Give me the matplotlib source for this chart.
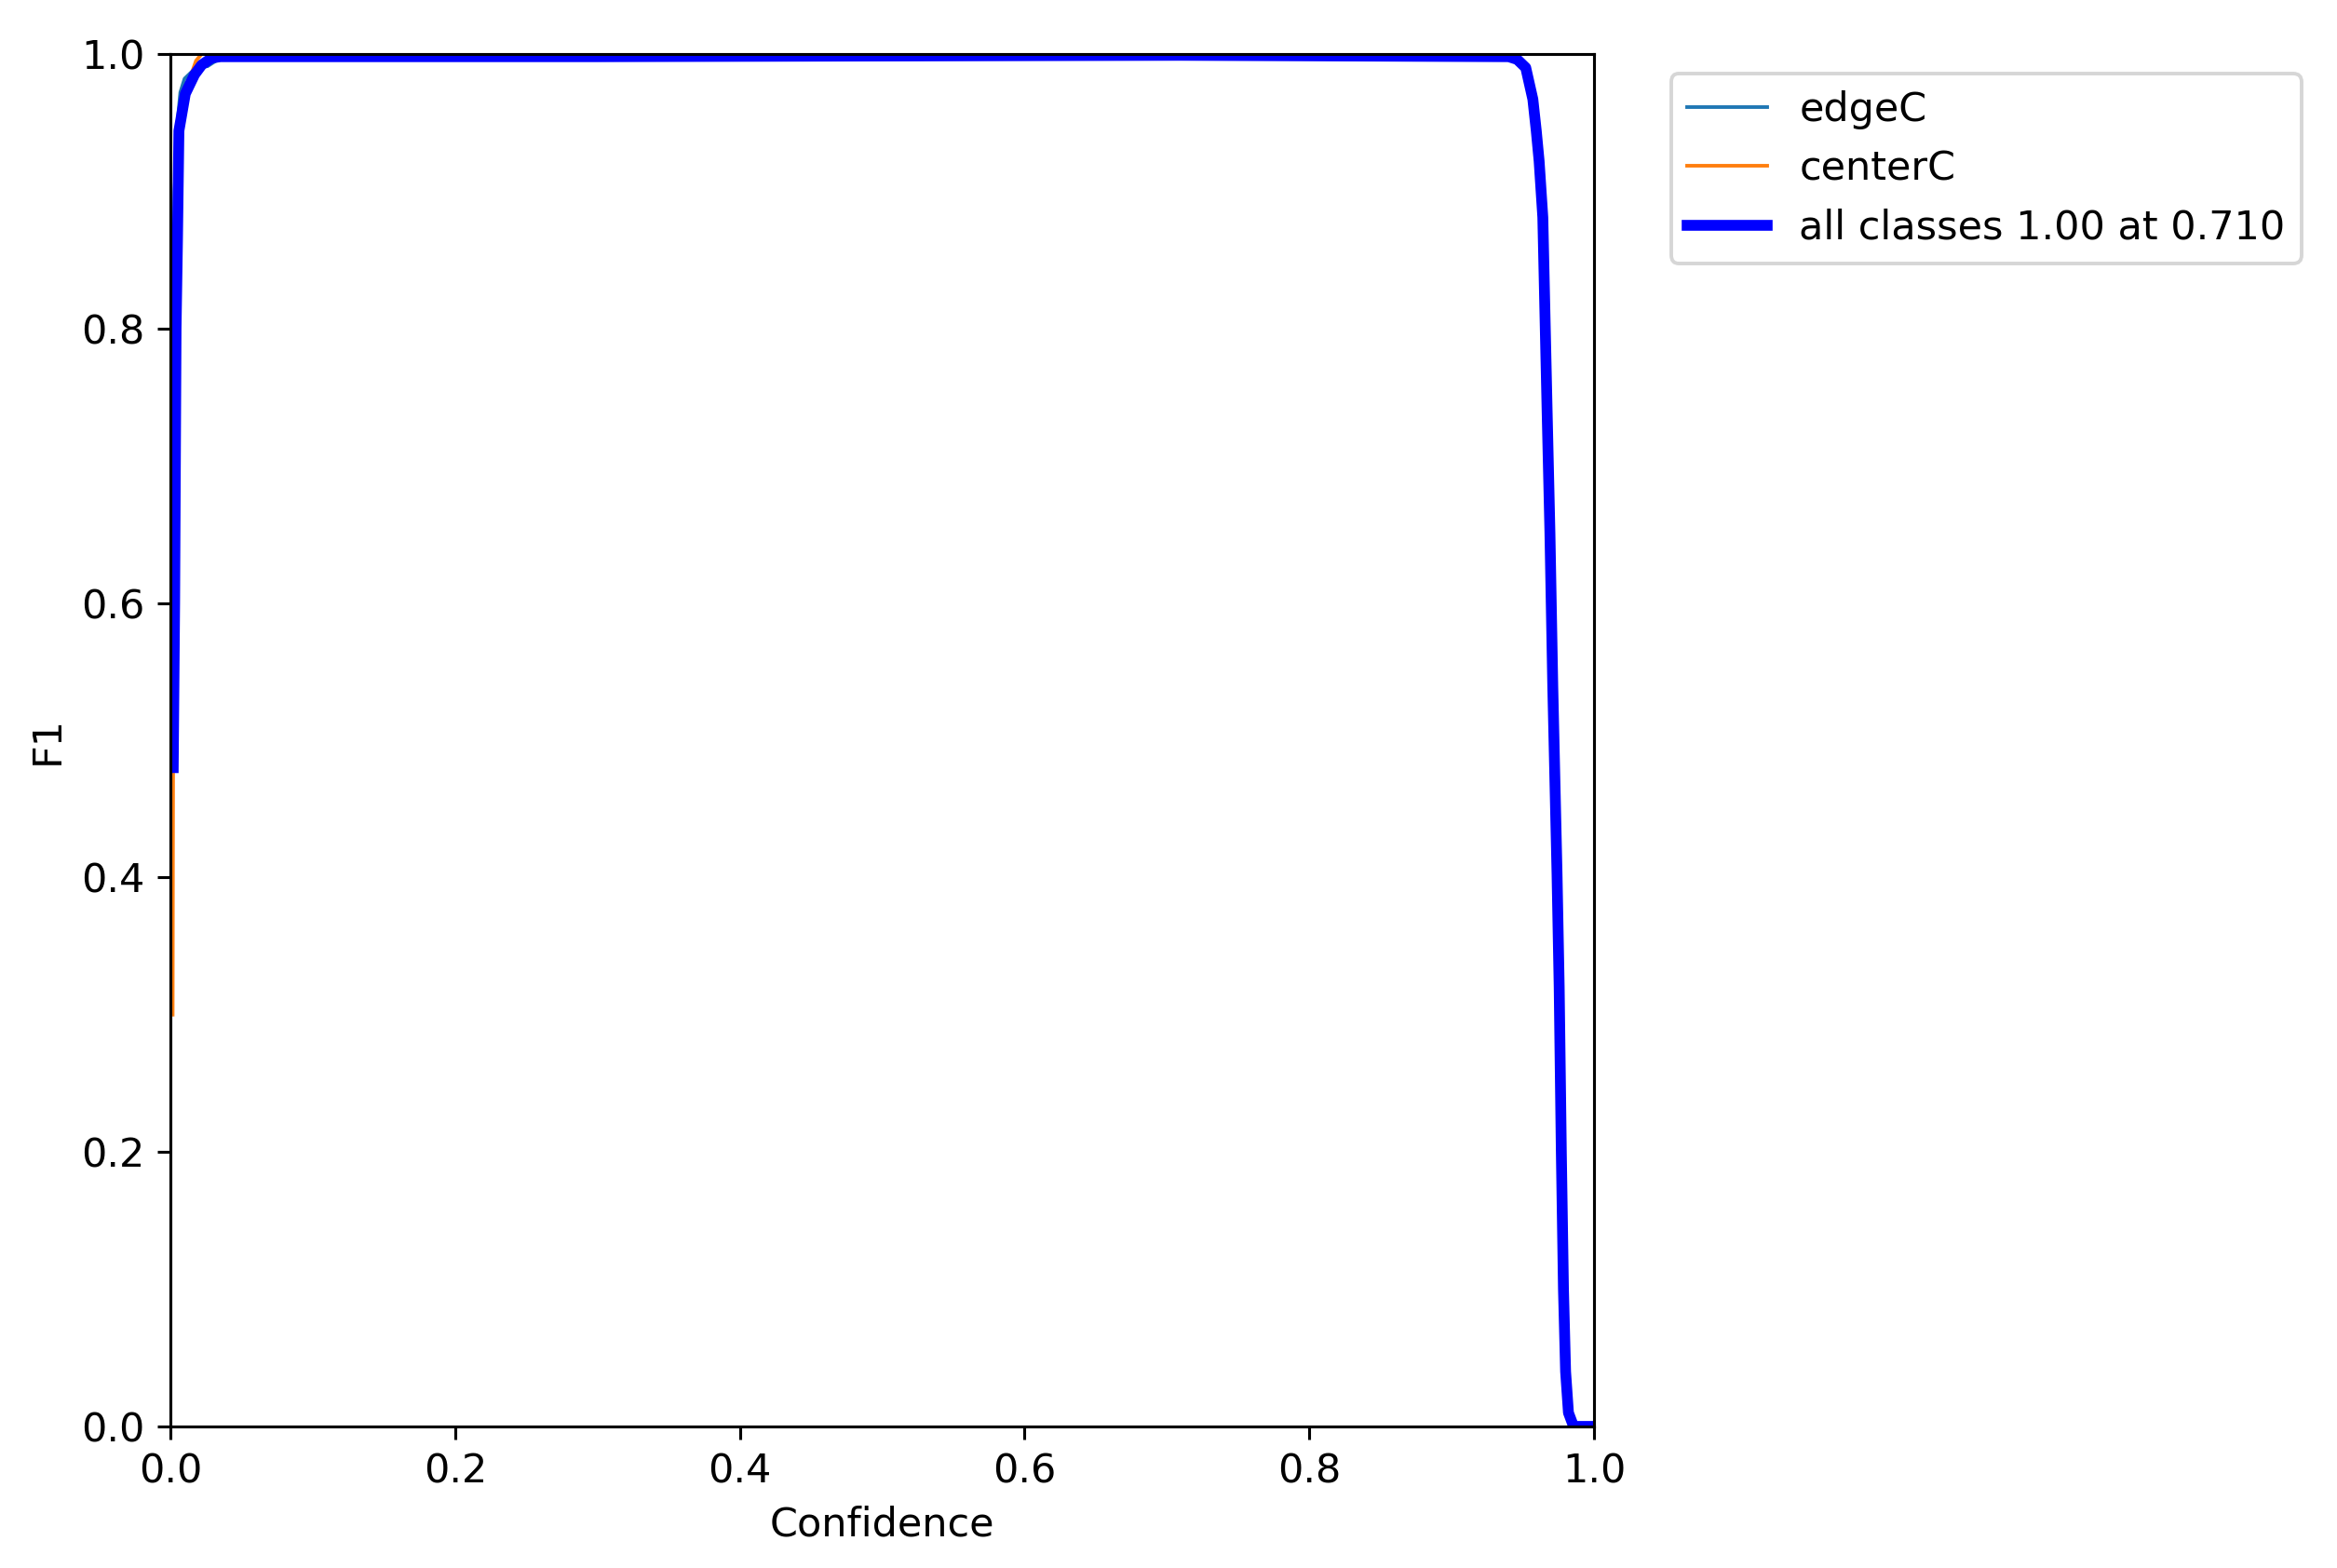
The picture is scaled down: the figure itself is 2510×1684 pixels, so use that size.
import matplotlib
matplotlib.use("Agg")
from matplotlib import pyplot as plt

# F1 vs confidence
names = ["edgeC", "centerC"]

edge_x = [0.0, 0.001, 0.003, 0.005, 0.007, 0.010, 0.016, 0.022, 0.026, 0.032, 0.040,
          0.300, 0.600, 0.940, 0.946, 0.952, 0.957, 0.9594, 0.9614, 0.964, 0.967,
          0.969, 0.971, 0.974, 0.9755, 0.977, 0.979, 0.982, 0.9856, 1.0]
edge_y = [0.66, 0.74, 0.90, 0.95, 0.972, 0.982, 0.988, 0.992, 0.991, 0.995, 0.997,
          0.997, 0.997, 0.997, 0.995, 0.990, 0.967, 0.944, 0.922, 0.881, 0.741,
          0.651, 0.539, 0.402, 0.320, 0.200, 0.062, 0.010, 0.0, 0.0]

center_x = [0.0016, 0.0018, 0.0022, 0.003, 0.005, 0.008, 0.013, 0.018, 0.022, 0.030,
            0.300, 0.600, 0.940, 0.946, 0.952, 0.957, 0.9594, 0.9614, 0.964, 0.967,
            0.969, 0.971, 0.974, 0.9755, 0.977, 0.979, 0.982, 0.9856, 1.0]
center_y = [0.30, 0.42, 0.60, 0.80, 0.92, 0.96, 0.98, 0.995, 1.0, 1.0,
            1.0, 1.0, 0.999, 0.997, 0.990, 0.967, 0.944, 0.922, 0.881, 0.741,
            0.651, 0.539, 0.402, 0.320, 0.200, 0.062, 0.010, 0.0, 0.0]

all_x = [0.002, 0.003, 0.004, 0.005, 0.006, 0.0105, 0.017, 0.022, 0.029, 0.035,
         0.300, 0.710, 0.940, 0.946, 0.952, 0.957, 0.9594, 0.9614, 0.964, 0.967,
         0.969, 0.971, 0.974, 0.9755, 0.977, 0.9785, 0.980, 0.982, 0.9856, 1.0]
all_y = [0.48, 0.60, 0.80, 0.865, 0.944, 0.971, 0.985, 0.992, 0.997, 0.998,
         0.998, 0.999, 0.998, 0.996, 0.990, 0.967, 0.944, 0.922, 0.881, 0.741,
         0.651, 0.539, 0.402, 0.320, 0.200, 0.100, 0.040, 0.010, 0.0, 0.0]
best_f1 = 1.00
best_conf = 0.710

plt.rcParams["font.size"] = 11.1
fig, ax = plt.subplots(1, 1, figsize=(2510 / 279, 1684 / 279), dpi=279)
fig.subplots_adjust(left=0.0729, right=0.6821, bottom=0.0903, top=0.9656)

ax.plot(edge_x, edge_y, linewidth=1, label=names[0])
ax.plot(center_x, center_y, linewidth=1, label=names[1])
ax.plot(all_x, all_y, linewidth=3, color="blue",
        label="all classes %.2f at %.3f" % (best_f1, best_conf))

ax.set_xlabel("Confidence")
ax.set_ylabel("F1")
ax.set_xlim(0, 1)
ax.set_ylim(0, 1)
ax.legend(bbox_to_anchor=(1.04, 1), loc="upper left")
fig.savefig("out.png", dpi=279)
